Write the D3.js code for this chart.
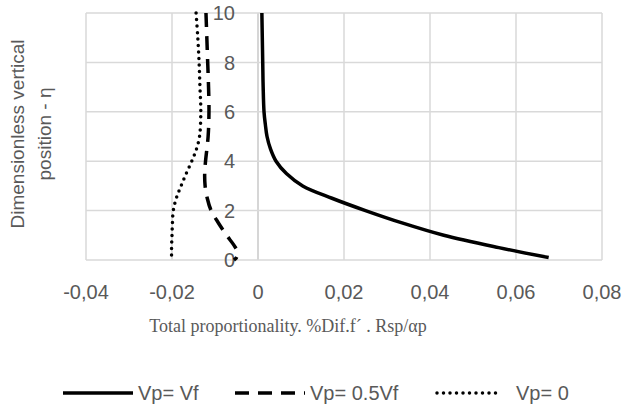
<!DOCTYPE html>
<html>
<head>
<meta charset="utf-8">
<script src="https://cdn.jsdelivr.net/npm/d3@7"></script>
<style>
  body { margin: 0; background: #fff; }
  svg text { font-family: "Liberation Sans", Arial, sans-serif; fill: #595959; }
</style>
</head>
<body>
<div class="chart"></div>
<script>
// eta (dimensionless vertical position) for each series
var etaFull = [10, 9, 8, 7, 6, 5.5, 5, 4.5, 4, 3.5, 3, 2.5, 2, 1.5, 1, 0.5, 0.1];
var valFull = [0.0009, 0.0010, 0.0011, 0.0012, 0.0014, 0.0017, 0.0021, 0.0029, 0.0042,
               0.0066, 0.0104, 0.0172, 0.0250, 0.0335, 0.0432, 0.0560, 0.0676];

var etaHalf = [10, 9, 8, 7, 6, 5, 4, 3.5, 3, 2.5, 2, 1.5, 1, 0.6, 0.3, 0.1, 0];
var valHalf = [-0.0121, -0.0119, -0.0117, -0.0115, -0.0114, -0.0116, -0.0122, -0.0124,
               -0.0123, -0.0118, -0.0109, -0.0092, -0.0073, -0.0056, -0.0047, -0.0050, -0.0056];

var etaZero = [10, 9, 8, 7, 6, 5, 4.5, 4, 3.5, 3, 2.5, 2, 1.5, 1, 0.5, 0];
var valZero = [-0.0144, -0.0140, -0.0137, -0.0135, -0.0133, -0.0136, -0.0143, -0.0154,
               -0.0167, -0.0179, -0.0190, -0.0197, -0.0199, -0.0200, -0.0201, -0.0201];

var seriesNames = ["Vp= Vf", "Vp= 0.5Vf", "Vp= 0"];
var xTicks = [-0.04, -0.02, 0, 0.02, 0.04, 0.06, 0.08];
var yTicks = [0, 2, 4, 6, 8, 10];

var width = 624, height = 408;
var plotLeft = 86, plotRight = 602, plotTop = 13, plotBottom = 260;

var svg = d3.select(".chart")
            .append("svg")
            .attr("width", width)
            .attr("height", height);

var x = d3.scaleLinear().domain([-0.04, 0.08]).range([plotLeft, plotRight]);
var y = d3.scaleLinear().domain([0, 10]).range([plotBottom, plotTop]);

var fmt = function(d) {
    if (d === 0) {
        return "0";
    }
    return (d < 0 ? "-" : "") + Math.abs(d).toFixed(2).replace(".", ",");
};

// gridlines
svg.append("g")
    .selectAll("line")
    .data(xTicks)
    .enter().append("line")
    .attr("x1", function(d) { return x(d); })
    .attr("x2", function(d) { return x(d); })
    .attr("y1", y(0))
    .attr("y2", y(10))
    .attr("stroke", function(d) { return d === 0 ? "#c8c8c8" : "#d9d9d9"; })
    .attr("stroke-width", 1.5);

svg.append("g")
    .selectAll("line")
    .data(yTicks)
    .enter().append("line")
    .attr("x1", x(-0.04))
    .attr("x2", x(0.08))
    .attr("y1", function(d) { return y(d); })
    .attr("y2", function(d) { return y(d); })
    .attr("stroke", "#d9d9d9")
    .attr("stroke-width", 1.5);

// x tick labels
svg.append("g")
    .selectAll("text")
    .data(xTicks)
    .enter().append("text")
    .attr("x", function(d) { return x(d); })
    .attr("y", 299)
    .attr("text-anchor", "middle")
    .style("font-size", "20px")
    .text(fmt);

// y tick labels, drawn along the axis at x = 0
svg.append("g")
    .selectAll("text")
    .data(yTicks)
    .enter().append("text")
    .attr("x", x(0) - 23)
    .attr("y", function(d) { return y(d); })
    .attr("dy", "0.36em")
    .attr("text-anchor", "end")
    .style("font-size", "20px")
    .text(function(d) { return d; });

// axis titles
svg.append("text")
    .attr("x", 288)
    .attr("y", 332)
    .attr("text-anchor", "middle")
    .style("font-family", "'Liberation Serif', 'Times New Roman', serif")
    .style("font-size", "18px")
    .text("Total proportionality. %Dif.f\u00b4 . Rsp/\u03b1p");

var yTitle = svg.append("text")
    .attr("transform", "translate(0,134) rotate(-90)")
    .attr("text-anchor", "middle")
    .style("font-size", "19px");
yTitle.append("tspan").attr("x", 0).attr("y", 24).text("Dimensionless vertical");
yTitle.append("tspan").attr("x", 0).attr("y", 51).text("position - \u03b7");

// series
var styles = [
    { dash: null, cap: "butt", w: 3.5 },
    { dash: "14,9", cap: "butt", w: 3.5 },
    { dash: "0,6.5", cap: "round", w: 3.5 }
];

var series = [
    d3.zip(valFull, etaFull),
    d3.zip(valHalf, etaHalf),
    d3.zip(valZero, etaZero)
];

var line = d3.line()
    .x(function(d) { return x(d[0]); })
    .y(function(d) { return y(d[1]); })
    .curve(d3.curveCatmullRom.alpha(0.5));

svg.append("g")
    .selectAll("path")
    .data(series)
    .enter().append("path")
    .attr("d", line)
    .attr("fill", "none")
    .attr("stroke", "#000")
    .attr("stroke-width", function(d, i) { return styles[i].w; })
    .attr("stroke-dasharray", function(d, i) { return styles[i].dash; })
    .attr("stroke-linecap", function(d, i) { return styles[i].cap; });

// legend
var legendX = [63, 235, 437];
var legendY = 393;
var legend = svg.append("g")
    .selectAll("g")
    .data(seriesNames)
    .enter().append("g")
    .attr("transform", function(d, i) { return "translate(" + legendX[i] + "," + legendY + ")"; });

legend.append("line")
    .attr("x1", 0)
    .attr("x2", function(d, i) { return i === 2 ? 64 : 70; })
    .attr("stroke", "#000")
    .attr("stroke-width", function(d, i) { return styles[i].w; })
    .attr("stroke-dasharray", function(d, i) { return styles[i].dash; })
    .attr("stroke-linecap", function(d, i) { return styles[i].cap; });

legend.append("text")
    .attr("x", function(d, i) { return i === 2 ? 79 : 75; })
    .attr("dy", "0.36em")
    .style("font-size", "20px")
    .text(function(d) { return d; });
</script>
</body>
</html>
